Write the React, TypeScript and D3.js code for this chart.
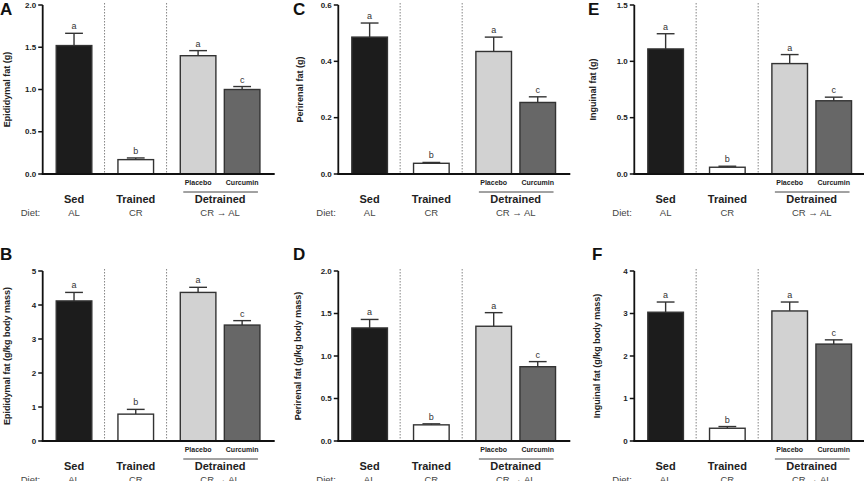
import React from "react";
import * as d3 from "d3";

const groups = ["Sed", "Trained", "Placebo", "Curcumin"];
const groupFills = ["#1c1c1c", "#ffffff", "#d2d2d2", "#676767"];
const sigLetters = ["a", "b", "a", "c"];
const mainLabels = ["Sed", "Trained", "Detrained"];
const dietLabels = ["AL", "CR", "CR \u2192 AL"];

const panelLetters = ["A", "C", "E", "B", "D", "F"];
const yLabels = [
  "Epididymal fat (g)",
  "Perirenal fat (g)",
  "Inguinal fat (g)",
  "Epididymal fat (g/kg body mass)",
  "Perirenal fat (g/kg body mass)",
  "Inguinal fat (g/kg body mass)",
];
const yMax = [2.0, 0.6, 1.5, 5, 2.0, 4];
const yStep = [0.5, 0.2, 0.5, 1, 0.5, 1];
const yDecimals = [1, 1, 1, 0, 1, 0];

const meansA = [1.52, 0.17, 1.4, 1.0];
const semA = [0.145, 0.02, 0.06, 0.035];
const meansC = [0.486, 0.038, 0.435, 0.254];
const semC = [0.05, 0.003, 0.051, 0.02];
const meansE = [1.11, 0.06, 0.98, 0.65];
const semE = [0.135, 0.009, 0.08, 0.032];
const meansB = [4.12, 0.79, 4.37, 3.41];
const semB = [0.25, 0.14, 0.15, 0.13];
const meansD = [1.33, 0.19, 1.35, 0.874];
const semD = [0.1, 0.012, 0.16, 0.06];
const meansF = [3.03, 0.3, 3.06, 2.28];
const semF = [0.24, 0.04, 0.21, 0.1];

const allMeans = [meansA, meansC, meansE, meansB, meansD, meansF];
const allSem = [semA, semC, semE, semB, semD, semF];

const FONT = "'Liberation Sans', Arial, sans-serif";

function Panel({ idx }: { idx: number }) {
  const col = idx % 3;
  const row = Math.floor(idx / 3);
  const axisX = [42.7, 338.3, 634.3][col];
  const yTop = row === 0 ? 5 : 271;
  const yBot = row === 0 ? 174 : 441;
  const labelOff = [[36, 38, 41], [36, 40, 37]][row][col];
  const letterX = [0, 293, 588][col] + (row === 1 && col === 2 ? 4 : 0);

  const x = d3.scaleLinear().domain([0, 3.74]).range([axisX, axisX + 232]);
  const y = d3.scaleLinear().domain([0, yMax[idx]]).range([yBot, yTop]);
  const ticks = d3.range(0, yMax[idx] + yStep[idx] / 2, yStep[idx]);
  const fmt = d3.format(`.${yDecimals[idx]}f`);
  const centers = [0.505, 1.5, 2.505, 3.215];
  const bw = 0.574;
  const dividers = [0.997, 1.997];
  const means = allMeans[idx];
  const sem = allSem[idx];
  const groupCenters = [centers[0], centers[1], (centers[2] + centers[3]) / 2];

  return (
    <g fontFamily={FONT}>
      <text x={letterX} y={yTop + (row === 0 ? 10 : -11)} fontSize={17} fontWeight="bold" fill="#111">
        {panelLetters[idx]}
      </text>
      <text
        transform={`translate(${axisX - labelOff},${(yTop + yBot) / 2}) rotate(-90)`}
        textAnchor="middle"
        dominantBaseline="central"
        fontSize={9}
        fontWeight="bold"
        fill="#222"
      >
        {yLabels[idx]}
      </text>
      {dividers.map((d, i) => (
        <line
          key={"dv" + i}
          x1={x(d)}
          x2={x(d)}
          y1={yTop - 2}
          y2={yBot}
          stroke="#777"
          strokeWidth={0.9}
          strokeDasharray="1.5,1.5"
        />
      ))}
      {means.map((m, i) => {
        const cx = x(centers[i]);
        const w = x(bw) - x(0);
        const top = y(m + sem[i]);
        return (
          <g key={"b" + i}>
            <line x1={cx} x2={cx} y1={y(m)} y2={top} stroke="#333" strokeWidth={1.4} />
            <line x1={cx - w / 4} x2={cx + w / 4} y1={top} y2={top} stroke="#333" strokeWidth={1.4} />
            <rect
              x={cx - w / 2}
              y={y(m)}
              width={w}
              height={yBot - y(m)}
              fill={groupFills[i]}
              stroke="#333"
              strokeWidth={1.4}
            />
            <text x={cx} y={top - 4} textAnchor="middle" fontSize={9} fill="#333">
              {sigLetters[i]}
            </text>
          </g>
        );
      })}
      <line x1={axisX} x2={axisX} y1={yTop} y2={yBot} stroke="#111" strokeWidth={1.8} />
      <line x1={axisX - 1} x2={x(3.74)} y1={yBot} y2={yBot} stroke="#111" strokeWidth={1.8} />
      {ticks.map((t, i) => (
        <g key={"t" + i}>
          <line x1={axisX - 4.5} x2={axisX} y1={y(t)} y2={y(t)} stroke="#111" strokeWidth={1.5} />
          <text
            x={axisX - 6.5}
            y={y(t)}
            textAnchor="end"
            dominantBaseline="central"
            fontSize={8}
            fontWeight="bold"
            fill="#222"
          >
            {fmt(t)}
          </text>
        </g>
      ))}
      {[2, 3].map((i) => (
        <text
          key={"sub" + i}
          x={x(centers[i])}
          y={yBot + 11}
          textAnchor="middle"
          fontSize={7}
          fontWeight="bold"
          fill="#222"
        >
          {groups[i]}
        </text>
      ))}
      <line
        x1={x(centers[2] - bw / 2) + 3}
        x2={x(centers[3] + bw / 2) - 2}
        y1={yBot + 18}
        y2={yBot + 18}
        stroke="#444"
        strokeWidth={1}
      />
      {mainLabels.map((l, i) => (
        <text
          key={"ml" + i}
          x={x(groupCenters[i])}
          y={yBot + 29}
          textAnchor="middle"
          fontSize={11}
          fontWeight="bold"
          fill="#222"
        >
          {l}
        </text>
      ))}
      <text x={axisX - 22} y={yBot + 41.5} fontSize={9.5} fill="#444">
        Diet:
      </text>
      {dietLabels.map((l, i) => (
        <text key={"dl" + i} x={x(groupCenters[i])} y={yBot + 41.5} textAnchor="middle" fontSize={9.5} fill="#444">
          {l}
        </text>
      ))}
    </g>
  );
}

export default function App() {
  return (
    <svg
      width={864}
      height={481}
      style={{ position: "absolute", left: 0, top: 0, background: "#fff" }}
    >
      {[0, 1, 2, 3, 4, 5].map((i) => (
        <Panel key={i} idx={i} />
      ))}
    </svg>
  );
}
